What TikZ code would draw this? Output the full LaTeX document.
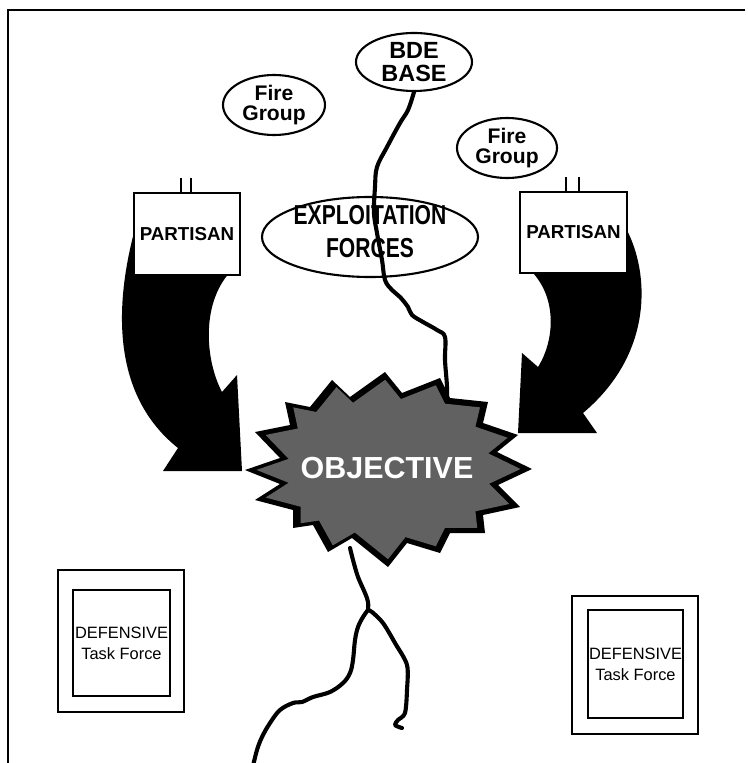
\documentclass[tikz,border=0pt]{standalone}
\usepackage{fontspec}
\setmainfont{Liberation Sans}
\usepackage{graphicx}
\usetikzlibrary{shapes.geometric}
\newcommand{\pxu}{0.03cm}

\tikzset{
  burst/.pic={
    \path[pic actions] (-143,1) -- (-108,-11) -- (-133,-37) -- (-98,-44) -- (-103,-67)
      -- (-78,-62) -- (-56,-89) -- (-38,-72) -- (-3,-97) -- (14,-76) -- (52,-91)
      -- (62,-71) -- (100,-67) -- (95,-46) -- (130,-34) -- (109,-17) -- (144,0)
      -- (110,16) -- (132,38) -- (95,46) -- (97,64) -- (62,64) -- (52,84)
      -- (19,74) -- (0,98) -- (-36,69) -- (-60,83) -- (-75,56) -- (-95,59)
      -- (-95,41) -- (-133,31) -- (-108,15) -- cycle;
  }
}

\begin{document}
\begin{tikzpicture}[x=0.03cm, y=-0.03cm,
    oval/.style={ellipse, draw, line width=1.8pt, inner sep=0pt, align=center},
    unitbox/.style={rectangle, draw, line width=1.3pt, fill=white, inner sep=0pt, align=center},
    road/.style={line width=3.5pt, line cap=round, line join=round},
    bigarrow/.style={fill=black}]
  \useasboundingbox (0,0) rectangle (747,763);
  % frame
  \draw[line width=2.2pt] (745,10) -- (8,10) -- (8,763);
  % curved arrows
  \fill[bigarrow] (136,225) .. controls (118,290) and (105,390) .. (178,448)
    -- (163,471) -- (242,471) -- (237,375) -- (222,392)
    .. controls (205,360) and (200,300) .. (234,268) -- cycle;
  \fill[bigarrow] (624,225) .. controls (648,265) and (658,350) .. (583,413)
    -- (597,433) -- (518,433) -- (522,353) -- (538,367)
    .. controls (555,340) and (558,295) .. (528,268) -- cycle;
  % partisans
  \node[unitbox, minimum width=106*\pxu, minimum height=82*\pxu,
    font=\fontsize{16}{19}\selectfont\bfseries] (lpart) at (187,234) {PARTISAN};
  \node[unitbox, minimum width=107*\pxu, minimum height=81*\pxu,
    font=\fontsize{16}{19}\selectfont\bfseries] (rpart) at (573.5,232.5) {PARTISAN};
  \draw[line width=1.2pt] (181,193) -- (181,178) (191,193) -- (191,178);
  \draw[line width=1.2pt] (566,192) -- (566,177) (579,192) -- (579,177);
  % ellipses
  \node[oval, minimum width=216*\pxu, minimum height=80*\pxu] (exploit) at (370,237) {};
  \node[font=\fontsize{18}{21.6}\selectfont\bfseries] (exploittext) at (370,234)
    {\scalebox{1}[1.3]{\begin{tabular}{@{}c@{}}EXPLOITATION\\FORCES\end{tabular}}};
  \node[oval, minimum width=102*\pxu, minimum height=60*\pxu,
    font=\fontsize{18}{17}\selectfont\bfseries] (lfire) at (274,105) {Fire\\Group};
  \node[oval, minimum width=100*\pxu, minimum height=60*\pxu,
    font=\fontsize{18}{17}\selectfont\bfseries] (rfire) at (507,148) {Fire\\Group};
  \node[oval, minimum width=116*\pxu, minimum height=58*\pxu,
    font=\fontsize{20}{19}\selectfont\bfseries] (bde) at (414,62) {BDE\\BASE};
  % roads
  \coordinate (burstc) at (388,469);
  \coordinate (objtop) at (447,410);
  \coordinate (objbot) at (350,548);
  \coordinate (fork) at (368,610);
  \draw[road] plot[smooth, tension=0.6] coordinates {(bde.south) (408,110) (400,123)
    (387,147) (377,167) (375,187) (374,213) (377,233) (382,260) (385,280) (392,290)
    (400,297) (408,307) (412,315) (423,322) (437,330) (445,337) (445,360) (447,387) (objtop)};
  \draw[road] plot[smooth, tension=0.6] coordinates {(objbot) (353,560) (358,577)
    (365,593) (368,602) (fork)};
  \draw[road] plot[smooth, tension=0.6] coordinates {(fork) (363,617) (358,627) (355,640)
    (353,660) (350,673) (343,683) (330,692) (313,697) (302,702) (293,703) (280,710)
    (270,723) (262,737) (257,750) (253,766)};
  \draw[road] plot[smooth, tension=0.5] coordinates {(fork) (372,612) (383,623) (395,643)
    (407,665) (407,690) (405,713) (398,720) (395,725) (402,728)};
  % objective
  \pic[fill=black] at (burstc) {burst};
  \pic[fill=black!62, scale=0.92] at (burstc) {burst};
  \node[font=\fontsize{26}{30}\selectfont\bfseries, text=white] (objective) at (387,468) {OBJECTIVE};
  % defensive task forces
  \node[unitbox, line width=1.2pt, minimum width=126*\pxu, minimum height=142*\pxu] (ldefout) at (121,641) {};
  \node[unitbox, line width=2pt, minimum width=97*\pxu, minimum height=106*\pxu,
    font=\fontsize{14}{18}\selectfont] (ldef) at (121.5,643) {DEFENSIVE\\Task Force};
  \node[unitbox, line width=1.2pt, minimum width=126*\pxu, minimum height=138*\pxu] (rdefout) at (635,665) {};
  \node[unitbox, line width=2pt, minimum width=95*\pxu, minimum height=108*\pxu,
    font=\fontsize{14}{18}\selectfont] (rdef) at (635.5,664) {DEFENSIVE\\Task Force};
\end{tikzpicture}
\end{document}
